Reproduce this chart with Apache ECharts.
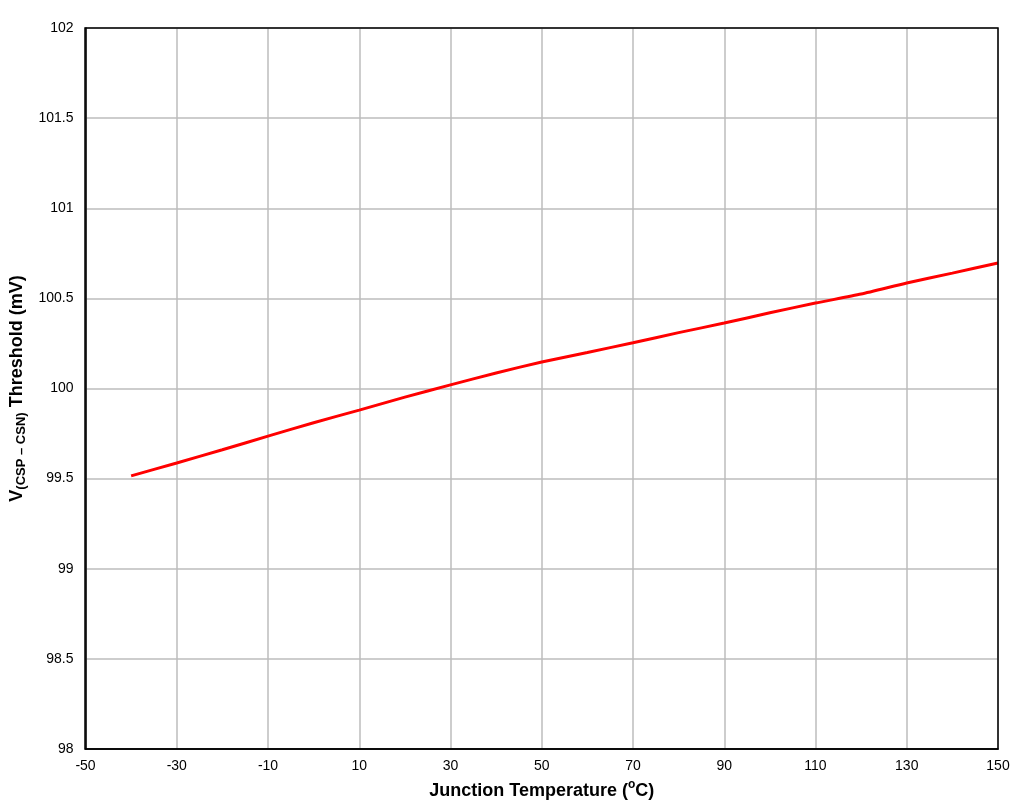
<!DOCTYPE html>
<html>
<head>
<meta charset="utf-8">
<script src="https://cdn.jsdelivr.net/npm/echarts@6/dist/echarts.min.js"></script>
<style>html,body{margin:0;padding:0;background:#fff}#chart{width:1030px;height:810px}</style>
</head>
<body>
<div id="chart"></div>
<script>
const temps = [-40, -30, -20, -10, 0, 10, 20, 30, 40, 50, 60, 70, 80, 90, 100, 110, 120, 130, 140, 150];
const threshold = [99.515, 99.587, 99.66, 99.736, 99.81, 99.88, 99.952, 100.02, 100.086, 100.147, 100.2, 100.254, 100.31, 100.363, 100.42, 100.474, 100.524, 100.585, 100.64, 100.696];
const xTicks = [-50, 150, 20];
const yTicks = [98, 102, 0.5];

const chart = echarts.init(document.getElementById('chart'));
const font = 'Liberation Sans, Arial, sans-serif';
chart.setOption({
    animation: false,
    grid: { left: 85, right: 32, top: 28, bottom: 61 },
    xAxis: {
        type: 'value', min: xTicks[0], max: xTicks[1], interval: xTicks[2],
        name: '{b|Junction Temperature (}{s|o}{b|C)}', nameLocation: 'middle', nameGap: 30,
        nameTextStyle: { rich: {
            b: { fontFamily: font, fontSize: 18, fontWeight: 'bold', color: '#000' },
            s: { fontFamily: font, fontSize: 12, fontWeight: 'bold', color: '#000', verticalAlign: 'top', padding: [0, 0, 12, 0] }
        } },
        axisLine: { show: true, onZero: false, lineStyle: { color: '#000', width: 1.5 } },
        axisTick: { show: false },
        axisLabel: { fontFamily: font, fontSize: 14, color: '#000', margin: 10 },
        splitLine: { show: true, lineStyle: { color: '#bdbdbd', width: 1.5 } }
    },
    yAxis: {
        type: 'value', min: yTicks[0], max: yTicks[1], interval: yTicks[2],
        name: '{b|V}{s|(CSP – CSN)}{b| Threshold (mV)}', nameLocation: 'middle', nameGap: 58,
        nameTextStyle: { rich: {
            b: { fontFamily: font, fontSize: 18, fontWeight: 'bold', color: '#000' },
            s: { fontFamily: font, fontSize: 13, fontWeight: 'bold', color: '#000', verticalAlign: 'bottom', padding: [8, 0, 0, 0] }
        } },
        axisLine: { show: true, onZero: false, lineStyle: { color: '#000', width: 1.5 } },
        axisTick: { show: false },
        axisLabel: { fontFamily: font, fontSize: 14, color: '#000', margin: 12 },
        splitLine: { show: true, lineStyle: { color: '#bdbdbd', width: 1.5 } }
    },
    graphic: [{ type: 'rect', shape: { x: 85, y: 28, width: 913, height: 721 }, style: { fill: 'none', stroke: '#000', lineWidth: 1.5 }, z: 10 }],
    series: [{
        type: 'line', data: temps.map((t, i) => [t, threshold[i]]),
        showSymbol: false, smooth: 0.2,
        lineStyle: { color: '#ff0000', width: 3 }
    }]
});
</script>
</body>
</html>
